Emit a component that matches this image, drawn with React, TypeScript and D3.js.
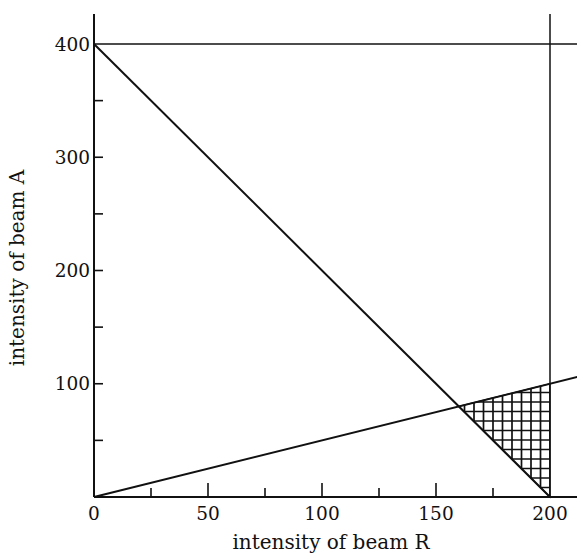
import React from "react";
import * as d3 from "d3";

const xTickLabels = [0, 50, 100, 150, 200];
const yTickLabels = [100, 200, 300, 400];
const xMajorTicks = [50, 100, 150];
const xMinorTicks = [25, 75, 125, 175];
const yTicks = [50, 100, 150, 200, 250, 300, 350];
// constraint lines (R, A)
const lineDecreasing = [[0, 400], [200, 0]]; // A = 400 - 2R
const lineRatio = [[0, 0], [212, 106]]; // A = R/2
const capA = 400;
const capR = 200;
const feasible = [[160, 80], [200, 100], [200, 0]];

const W = 577, H = 554;
const FONT = "'DejaVu Serif', 'Liberation Serif', serif";

export default function App() {
  const x = d3.scaleLinear().domain([0, 200]).range([94, 550]);
  const y = d3.scaleLinear().domain([0, 400]).range([497, 44]);
  const xMax = x.invert(W);
  const yMax = y.invert(14);
  const line = d3.line<number[]>().x(d => x(d[0])).y(d => y(d[1]));

  const [x0, x1] = d3.extent(feasible, d => x(d[0])) as [number, number];
  const [yTop, yBot] = d3.extent(feasible, d => y(d[1])) as [number, number];
  const step = 9.5;
  const vLines = d3.range(x1, x0 - step, -step);
  const hLines = d3.range(yBot, yTop - step, -step);

  return (
    <svg width={W} height={H} style={{ position: "absolute", left: 0, top: 0, background: "#fff" }}>
      <defs>
        <clipPath id="feas">
          <path d={line(feasible) + "Z"} />
        </clipPath>
      </defs>
      <g clipPath="url(#feas)" stroke="#111" strokeWidth={1.7}>
        {vLines.map((v, i) => <line key={"v" + i} x1={v} x2={v} y1={yTop - 2} y2={yBot + 2} />)}
        {hLines.map((h, i) => <line key={"h" + i} x1={x0 - 2} x2={x1 + 2} y1={h} y2={h} />)}
      </g>
      <path d={line(feasible) + "Z"} fill="none" stroke="#111" strokeWidth={1.2} />
      {/* axes */}
      <line x1={x(0)} x2={x(0)} y1={y(0)} y2={y(yMax)} stroke="#111" strokeWidth={2} />
      <line x1={x(0)} x2={x(xMax)} y1={y(0)} y2={y(0)} stroke="#111" strokeWidth={2} />
      {/* caps */}
      <line x1={x(0)} x2={x(xMax)} y1={y(capA)} y2={y(capA)} stroke="#111" strokeWidth={1.5} />
      <line x1={x(capR)} x2={x(capR)} y1={y(0)} y2={y(yMax)} stroke="#111" strokeWidth={1.5} />
      {/* constraint lines */}
      <path d={line(lineDecreasing) || ""} fill="none" stroke="#111" strokeWidth={2} />
      <path d={line(lineRatio) || ""} fill="none" stroke="#111" strokeWidth={2} />
      {/* ticks */}
      {xMajorTicks.map(t => <line key={"xm" + t} x1={x(t)} x2={x(t)} y1={y(0)} y2={y(0) - 14} stroke="#111" strokeWidth={1.6} />)}
      {xMinorTicks.map(t => <line key={"xn" + t} x1={x(t)} x2={x(t)} y1={y(0)} y2={y(0) - 9} stroke="#111" strokeWidth={1.6} />)}
      {yTicks.map(t => <line key={"y" + t} x1={x(0)} x2={x(0) + 9} y1={y(t)} y2={y(t)} stroke="#111" strokeWidth={1.6} />)}
      {/* tick labels */}
      {xTickLabels.map(t => (
        <text key={"xl" + t} x={x(t)} y={y(0) + 23} textAnchor="middle" fontFamily={FONT} fontSize={18.5} fill="#111">{t}</text>
      ))}
      {yTickLabels.map(t => (
        <text key={"yl" + t} x={x(0) - 4} y={y(t) + 6.5} textAnchor="end" fontFamily={FONT} fontSize={18.5} fill="#111">{t}</text>
      ))}
      <text x={331} y={549} textAnchor="middle" fontFamily={FONT} fontSize={20} fill="#111">intensity of beam R</text>
      <text transform={`translate(24,268) rotate(-90)`} textAnchor="middle" fontFamily={FONT} fontSize={20} fill="#111">intensity of beam A</text>
    </svg>
  );
}
